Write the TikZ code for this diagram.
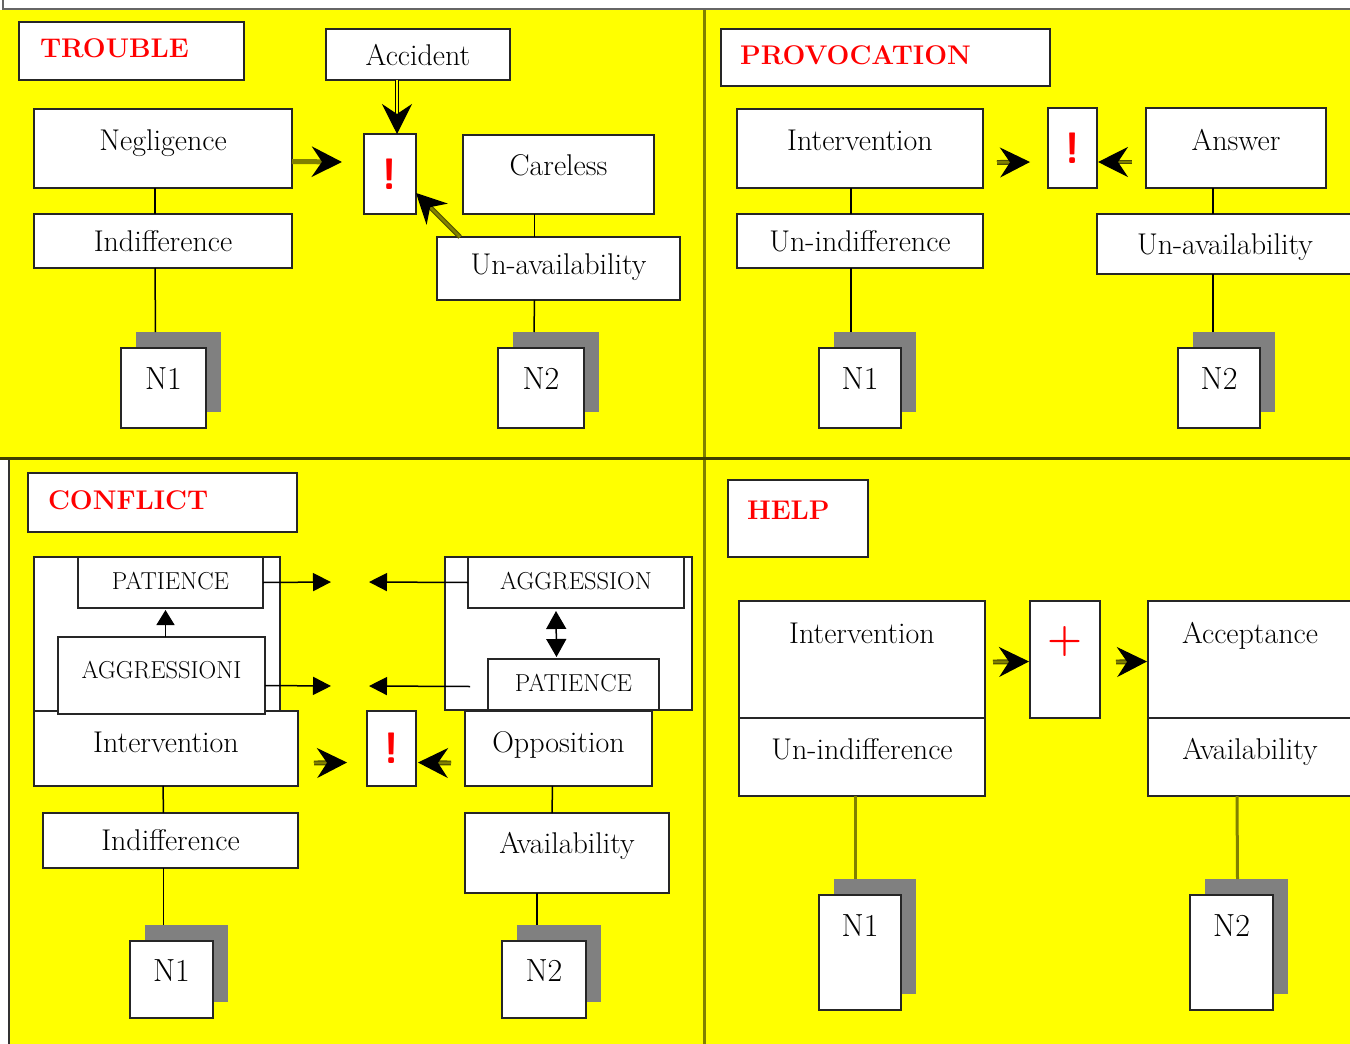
\documentclass[tikz,border=0pt]{standalone}
\usepackage{fontspec}
\usepackage{tikz}
\usetikzlibrary{arrows.meta,shadows,positioning}

\definecolor{bgyellow}{RGB}{255,255,0}
\definecolor{darkolive}{RGB}{128,128,0}
\definecolor{shadowgray}{RGB}{128,128,128}
\definecolor{bangred}{RGB}{255,0,0}

\begin{document}
\begin{tikzpicture}[x=1pt, y=-1pt,
        box/.style = {draw=black!85, line width=1.6pt, fill=white, anchor=north west,
                      inner sep=0pt, outer sep=0pt, font=\fontsize{30}{34}\selectfont},
        capsbox/.style = {box, font=\fontsize{24.5}{28}\selectfont},
        titlebox/.style = {box, font=\fontsize{27}{30}\selectfont\bfseries, text=bangred, align=left},
        nbox/.style = {box, font=\fontsize{32}{36}\selectfont,
                       drop shadow={shadow xshift=15pt, shadow yshift=16pt,
                       fill=shadowgray, draw=none, opacity=1}},
        bangbox/.style = {box, font=\fontsize{44}{50}\selectfont\sffamily\bfseries, text=bangred},
        holder/.style = {draw=black!85, line width=1.6pt, fill=white, anchor=north west,
                         inner sep=0pt, outer sep=0pt},
        divider/.style = {line width=3pt, draw=darkolive},
        link/.style = {line width=1.5pt},
        helplink/.style = {line width=3pt, draw=darkolive},
        bigtip/.style = {-{Stealth[length=30pt, width=30pt, inset=10pt, color=black]}},
        pipe/.style = {bigtip, line width=1.2pt, double=bgyellow, double distance=2.5pt},
        olivepipe/.style = {bigtip, line width=1.2pt, draw=darkolive!60!black, double=darkolive, double distance=2.5pt},
        smallarrow/.style = {line width=1.5pt, -{Triangle[length=18pt, width=18pt]}},
        ]
\useasboundingbox (0,0) rectangle (1350,1044);

% background and quarters
\fill[white] (0,0) rectangle (1350,1044);
\fill[bgyellow] (0,10) rectangle (1350,1044);
\fill[white] (0,459) rectangle (9,1044);
\draw[line width=2pt, black!60] (3,0) -- (3,9) -- (1350,9);
\draw[line width=2pt, black!80] (9,460) -- (9,1044);
\draw[divider] (704,10) -- (704,1044);
\draw[divider, draw=darkolive!50!black] (0,458) -- (1350,458);

% TROUBLE
\node[titlebox, inner xsep=21pt, text width=183pt, text height=35pt, text depth=23pt] (trouble) at (19,22) {TROUBLE};
\node[box, minimum width=184pt, text height=36pt, text depth=15pt] (acc) at (326,29) {Accident};
\node[box, minimum width=258pt, text height=41pt, text depth=38pt] (neg) at (34,109) {Negligence};
\node[box, minimum width=258pt, text height=37pt, text depth=17pt] (indif) at (34,214) {Indifference};
\node[bangbox, minimum width=52pt, minimum height=80pt] (ex1) at (364,134) {!};
\node[box, minimum width=191pt, text height=40pt, text depth=39pt] (care) at (463,135) {Careless};
\node[box, minimum width=243pt, text height=37pt, text depth=26pt] (unav) at (437,237) {Un-availability};
\node[nbox, minimum width=85pt, text height=41pt, text depth=39pt] (n1a) at (121,348) {N1};
\node[nbox, minimum width=86pt, text height=41pt, text depth=39pt] (n2a) at (498,348) {N2};

\draw[link] ([xshift=-8pt]neg.south) -- ([xshift=-8pt]indif.north);
\draw[link] ([xshift=-8pt]indif.south) -- ([xshift=-8pt,yshift=16pt]n1a.north);
\draw[link] ([xshift=-24pt]care.south) -- ([xshift=-24pt]unav.north);
\draw[link] ([xshift=-24pt]unav.south) -- ([xshift=-7pt,yshift=16pt]n2a.north);
\draw[bigtip, line width=5pt, draw=darkolive] ([yshift=-13pt]neg.east) -- ([xshift=-22pt,yshift=12pt]ex1.west);
\draw[pipe] ([xshift=-21pt]acc.south) -- ([xshift=7pt]ex1.north);
\draw[olivepipe] ([xshift=23pt]unav.north west) -- ([yshift=21pt]ex1.south east);

% PROVOCATION
\node[titlebox, inner xsep=19pt, text width=291pt, text height=35pt, text depth=22pt] (provoc) at (721,29) {PROVOCATION};
\node[box, minimum width=246pt, text height=41pt, text depth=38pt] (intv) at (737,109) {Intervention};
\node[box, minimum width=246pt, text height=37pt, text depth=17pt] (unind) at (737,214) {Un-indifference};
\node[bangbox, minimum width=49pt, minimum height=80pt] (ex2) at (1048,108) {!};
\node[box, minimum width=180pt, text height=42pt, text depth=38pt] (ans) at (1146,108) {Answer};
\node[box, minimum width=256pt, text height=40pt, text depth=20pt] (unav2) at (1097,214) {Un-availability};
\node[nbox, minimum width=82pt, text height=41pt, text depth=39pt] (n1b) at (819,348) {N1};
\node[nbox, minimum width=82pt, text height=41pt, text depth=39pt] (n2b) at (1178,348) {N2};

\draw[link] ([xshift=-9pt]intv.south) -- ([xshift=-9pt]unind.north);
\draw[link] ([xshift=-9pt]unind.south) -- ([xshift=-9pt,yshift=16pt]n1b.north);
\draw[link] ([xshift=-23pt]ans.south) -- ([xshift=-12pt]unav2.north);
\draw[link] ([xshift=-12pt]unav2.south) -- ([xshift=-6pt,yshift=16pt]n2b.north);
\draw[olivepipe] ([xshift=14pt,yshift=-14pt]intv.east) -- ([xshift=-18pt,yshift=-14pt]ex2.west);
\draw[olivepipe] ([xshift=-14pt,yshift=-14pt]ans.west) -- ([xshift=1pt,yshift=-14pt]ex2.east);

% CONFLICT
\node[titlebox, inner xsep=20pt, text width=229pt, text height=36pt, text depth=23pt] (conflict) at (28,473) {CONFLICT};
\node[holder, minimum width=246pt, minimum height=155pt] (holdL) at (34,557) {};
\node[capsbox, minimum width=185pt, text height=32pt, text depth=19pt] (patL) at (78,557) {PATIENCE};
\node[box, minimum width=264pt, text height=41pt, text depth=34pt] (intc) at (34,711) {Intervention};
\node[capsbox, minimum width=207pt, text height=41pt, text depth=36pt] (aggL) at (58,637) {AGGRESSIONI};
\node[box, minimum width=255pt, text height=37pt, text depth=18pt] (indc) at (43,813) {Indifference};
\node[nbox, minimum width=83pt, text height=40pt, text depth=37pt] (n1c) at (130,941) {N1};
\node[bangbox, minimum width=49pt, minimum height=75pt] (ex3) at (367,711) {!};
\node[holder, minimum width=247pt, minimum height=153pt] (holdR) at (445,557) {};
\node[capsbox, minimum width=216pt, text height=32pt, text depth=19pt] (aggR) at (468,557) {AGGRESSION};
\node[capsbox, minimum width=171pt, text height=32pt, text depth=19pt] (patR) at (488,659) {PATIENCE};
\node[box, minimum width=187pt, text height=41pt, text depth=34pt] (opp) at (465,711) {Opposition};
\node[box, minimum width=204pt, text height=40pt, text depth=40pt] (avc) at (465,813) {Availability};
\node[nbox, minimum width=84pt, text height=40pt, text depth=37pt] (n2c) at (502,941) {N2};

\coordinate (pa) at (331,582);
\coordinate (pb) at (331,686);
\coordinate (pc) at (369,582);
\coordinate (pd) at (369,686);
\coordinate (ca) at (314,763);
\coordinate (cb) at (451,763);

\draw[link] ([xshift=-3pt]intc.south) -- ([xshift=-7pt]indc.north);
\draw[link] ([xshift=-7pt]indc.south) -- ([xshift=-8pt,yshift=16pt]n1c.north);
\draw[link] ([xshift=-6pt]opp.south) -- ([xshift=-15pt]avc.north);
\draw[link] ([xshift=-30pt]avc.south) -- ([xshift=-7pt,yshift=16pt]n2c.north);
\draw[smallarrow] (patL.east) -- (pa);
\draw[smallarrow] ([yshift=-10pt]aggL.east) -- (pb);
\draw[smallarrow] (aggR.west) -- (pc);
\draw[smallarrow] ([xshift=-18pt,yshift=-2pt]patR.west) -- (pd);
\draw[line width=1.5pt, -{Triangle[length=15pt, width=18pt]}] ([xshift=4pt]aggL.north) -- ([xshift=-5pt,yshift=-2pt]patL.south);
\draw[line width=1.5pt, {Triangle[length=18pt, width=20pt]}-{Triangle[length=18pt, width=20pt]}]
    ([xshift=-20pt,yshift=-3pt]aggR.south) -- ([xshift=-17pt,yshift=2pt]patR.north);
\draw[olivepipe] (ca) -- ([xshift=-20pt,yshift=-14pt]ex3.west);
\draw[olivepipe] (cb) -- ([xshift=2pt,yshift=-14pt]ex3.east);

% HELP
\node[titlebox, inner xsep=19pt, text width=102pt, text height=39pt, text depth=38pt] (help) at (728,480) {HELP};
\node[box, minimum width=246pt, text height=42pt, text depth=75pt] (inth) at (739,601) {Intervention};
\node[box, minimum width=246pt, text height=41pt, text depth=37pt] (unh) at (739,718) {Un-indifference};
\node[box, minimum width=70pt, text height=50pt, text depth=67pt, font=\fontsize{40}{40}\selectfont\bfseries, text=bangred] (plus) at (1030,601) {+};
\node[box, minimum width=204pt, text height=42pt, text depth=75pt] (acc2) at (1148,601) {Acceptance};
\node[box, minimum width=204pt, text height=41pt, text depth=37pt] (avh) at (1148,718) {Availability};
\node[nbox, minimum width=82pt, text height=41pt, text depth=74pt] (n1d) at (819,895) {N1};
\node[nbox, minimum width=83pt, text height=41pt, text depth=74pt] (n2d) at (1190,895) {N2};

\coordinate (ha) at (993,662);
\coordinate (hb) at (1116,662);

\draw[helplink] ([xshift=-7pt]unh.south) -- ([xshift=-5pt,yshift=16pt]n1d.north);
\draw[helplink] ([xshift=-13pt]avh.south) -- ([xshift=6pt,yshift=16pt]n2d.north);
\draw[olivepipe] (ha) -- ([xshift=-1pt,yshift=-2pt]plus.west);
\draw[olivepipe] (hb) -- ([xshift=-1pt,yshift=-2pt]acc2.west);
\end{tikzpicture}
\end{document}
